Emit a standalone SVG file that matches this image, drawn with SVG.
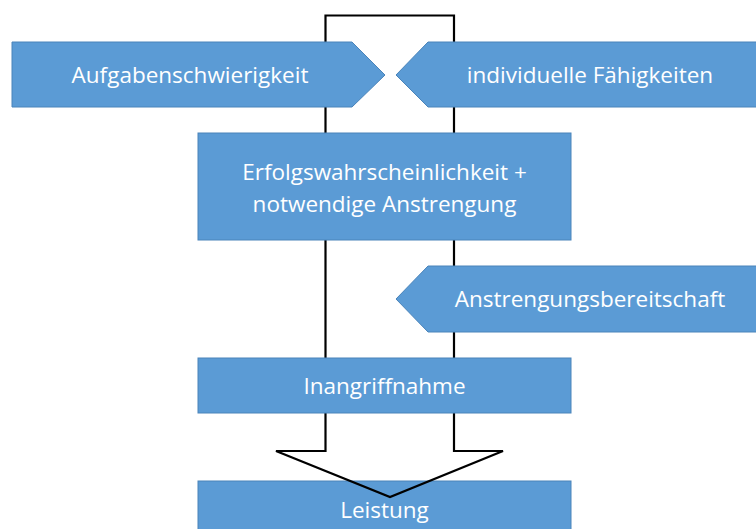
<svg xmlns="http://www.w3.org/2000/svg" width="756" height="529" viewBox="0 0 756 529">
<style>
.box{fill:#5B9BD5;stroke:#4A84BA;stroke-width:1}
.t{fill:#fff;font-family:"Open Sans","Liberation Sans",sans-serif;font-size:22.5px;text-anchor:middle}
</style>
<rect width="756" height="529" fill="#fff"/>
<g id="leistung"><rect class="box" x="198" y="481" width="373" height="60"/><text class="t" x="384.5" y="518">Leistung</text></g>
<g id="connectors"><polygon points="325.5,15.5 454,15.5 454,451 503,451 390,497 276,451 325.5,451" fill="none" stroke="#000" stroke-width="2.2" stroke-linejoin="miter"/></g>
<g id="aufgabenschwierigkeit"><polygon class="box" points="12,42 352,42 385,75 352,107 12,107"/><text class="t" x="190" y="83">Aufgabenschwierigkeit</text></g>
<g id="faehigkeiten"><polygon class="box" points="396,75 428,42 757,42 757,107 428,107"/><text class="t" x="590" y="83">individuelle Fähigkeiten</text></g>
<g id="erfolg"><rect class="box" x="198" y="133" width="373" height="107"/><text class="t" x="384.5" y="180">Erfolgswahrscheinlichkeit +</text><text class="t" x="384.5" y="212">notwendige Anstrengung</text></g>
<g id="bereitschaft"><polygon class="box" points="396,299 428,266 757,266 757,332 428,332"/><text class="t" x="590" y="307">Anstrengungsbereitschaft</text></g>
<g id="inangriffnahme"><rect class="box" x="198" y="358" width="373" height="55"/><text class="t" x="384.5" y="394">Inangriffnahme</text></g>
</svg>
